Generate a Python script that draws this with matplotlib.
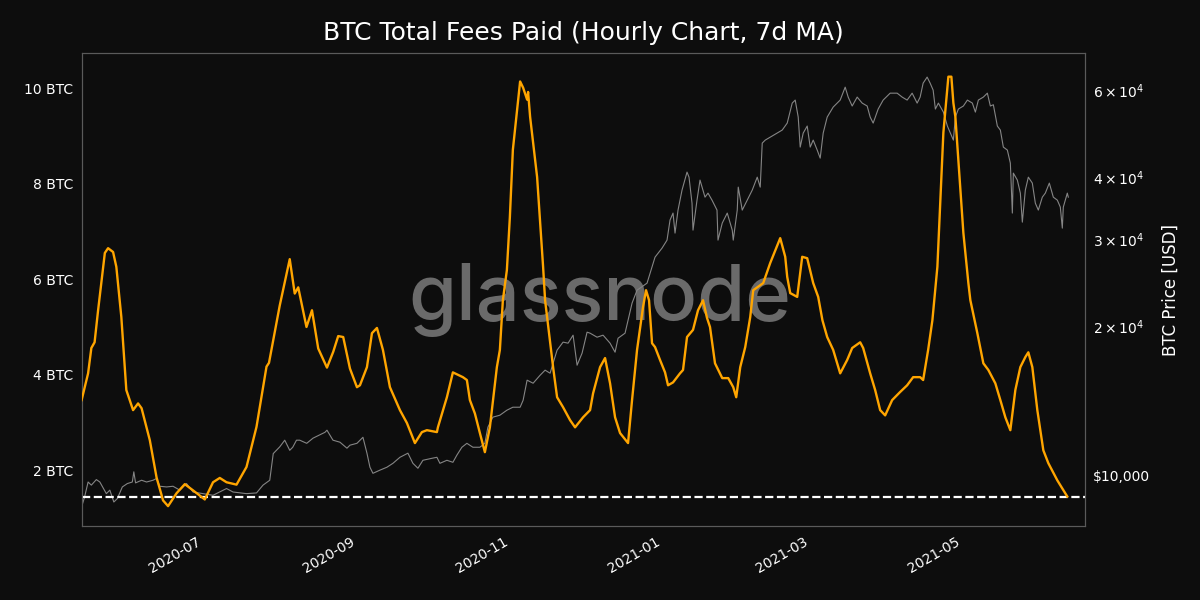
import numpy as np
import pandas as pd
import matplotlib
matplotlib.use("Agg")
import matplotlib.pyplot as plt
import matplotlib.dates as mdates
import matplotlib.ticker as mticker

# ---------------------------
# Data
# days are counted from 2020-07-01
# ---------------------------
base_date = "2020-07-01"

fee_day = [-48.5, -45.9, -44.6, -43.3, -41.9, -39.2, -37.9, -35.9, -34.6, -32.6,
           -30.6, -27.9, -25.9, -24.5, -21.2, -18.5, -15.9, -13.9, -10.5, -7.2,
           -3.9, 0.8, 4.1, 6.8, 9.5, 13.5, 17.5, 21.5, 25.5, 26.5,
           30.8, 34.8, 36.8, 38.2, 41.5, 43.7, 46.2, 49.7, 52.2, 54.2,
           56.2, 58.9, 61.7, 62.9, 65.7, 67.7, 69.7, 72.1, 74.9, 78.9,
           81.7, 84.9, 87.7, 89.7, 93.7, 94.1, 97.7, 100.1, 104.1, 105.7,
           106.9, 108.9, 110.9, 112.9, 114.9, 117.7, 118.9, 120.1, 121.7, 122.9,
           124.1, 127.0, 128.2, 129.8, 130.2, 131.0, 133.8, 136.2, 137.0, 140.2,
           141.8, 144.2, 147.0, 149.0, 152.2, 155.0, 156.2, 159.0, 161.0, 163.0,
           165.0, 167.0, 170.2, 171.8, 173.8, 176.2, 177.4, 178.6, 179.8, 181.0,
           183.0, 185.0, 186.2, 188.2, 191.0, 192.2, 193.8, 196.2, 198.2, 200.2,
           201.8, 203.0, 205.0, 207.9, 210.3, 212.3, 213.5, 215.1, 217.1, 219.1,
           220.3, 224.3, 227.1, 231.1, 233.1, 233.9, 235.1, 237.9, 239.9, 241.9,
           244.3, 246.3, 248.0, 249.9, 252.3, 255.1, 257.9, 259.9, 263.1, 264.3,
           267.1, 269.1, 271.1, 273.1, 275.9, 279.1, 281.9, 284.3, 287.1, 288.3,
           290.3, 292.0, 294.0, 296.4, 298.4, 299.6, 300.4, 301.2, 302.4, 304.4,
           306.4, 307.2, 310.0, 312.4, 314.4, 317.2, 319.2, 321.2, 323.2, 325.2,
           327.2, 329.2, 330.4, 332.0, 334.0, 336.4, 338.4, 342.0, 346.0]

fee_btc = [3.47, 4.03, 4.56, 4.68, 5.35, 6.55, 6.65, 6.57, 6.26, 5.21,
           3.68, 3.26, 3.40, 3.30, 2.63, 1.85, 1.37, 1.25, 1.52, 1.71,
           1.58, 1.39, 1.75, 1.84, 1.75, 1.70, 2.07, 2.91, 4.17, 4.25,
           5.45, 6.42, 5.70, 5.83, 5.00, 5.35, 4.55, 4.15, 4.48, 4.81,
           4.79, 4.13, 3.74, 3.78, 4.16, 4.87, 4.98, 4.52, 3.74, 3.26,
           2.99, 2.57, 2.80, 2.84, 2.80, 2.90, 3.53, 4.05, 3.95, 3.89,
           3.47, 3.19, 2.78, 2.38, 2.90, 4.16, 4.52, 5.56, 6.19, 7.30,
           8.71, 10.14, 10.01, 9.76, 9.92, 9.40, 8.14, 6.26, 5.56, 4.16,
           3.53, 3.32, 3.05, 2.90, 3.11, 3.26, 3.61, 4.16, 4.35, 3.82,
           3.11, 2.78, 2.57, 3.47, 4.52, 5.42, 5.77, 5.56, 4.66, 4.58,
           4.31, 4.05, 3.78, 3.84, 4.03, 4.10, 4.79, 4.94, 5.35, 5.56,
           5.19, 5.00, 4.24, 3.93, 3.93, 3.74, 3.53, 4.16, 4.58, 5.21,
           5.77, 5.92, 6.34, 6.86, 6.47, 6.05, 5.71, 5.63, 6.47, 6.44,
           5.92, 5.63, 5.14, 4.79, 4.52, 4.03, 4.31, 4.56, 4.68, 4.56,
           4.03, 3.68, 3.26, 3.15, 3.47, 3.64, 3.78, 3.95, 3.95, 3.89,
           4.52, 5.14, 6.26, 9.07, 10.24, 10.24, 9.69, 9.40, 8.50, 6.97,
           5.92, 5.56, 4.87, 4.24, 4.10, 3.82, 3.47, 3.11, 2.84, 3.68,
           4.16, 4.37, 4.47, 4.16, 3.26, 2.42, 2.15, 1.79, 1.45]

price_day = [-48.5, -47.3, -45.9, -44.6, -42.6, -41.2, -38.6, -37.2, -35.6, -34.2,
             -32.2, -30.2, -28.2, -27.6, -26.9, -24.5, -22.5, -19.9, -18.5, -17.2,
             -14.5, -11.9, -9.2, -6.5, -3.9, 0.1, 4.1, 9.5, 12.1, 17.5,
             21.5, 24.1, 26.8, 28.2, 30.8, 32.8, 34.8, 36.0, 37.5, 38.8,
             41.6, 44.1, 48.9, 49.7, 52.1, 54.9, 57.7, 58.9, 61.7, 64.1,
             65.7, 66.9, 68.1, 70.9, 73.7, 76.1, 78.9, 82.1, 84.1, 86.1,
             88.1, 91.7, 93.7, 94.9, 97.7, 100.1, 101.7, 103.7, 105.7, 108.1,
             110.9, 112.9, 114.1, 116.1, 118.9, 121.7, 124.1, 127.0, 128.2, 129.8,
             132.2, 135.0, 137.0, 139.0, 140.2, 141.8, 144.2, 146.2, 148.2, 149.8,
             151.8, 153.8, 155.0, 157.8, 160.2, 163.0, 165.0, 166.2, 169.0, 170.2,
             171.8, 173.8, 177.8, 179.8, 181.0, 183.8, 185.8, 187.0, 188.2, 189.0,
             190.2, 191.8, 193.8, 194.6, 195.8, 196.2, 197.8, 199.0, 201.0, 202.2,
             203.8, 205.8, 206.2, 207.9, 209.9, 211.9, 212.3, 213.9, 214.3, 215.9,
             217.9, 219.9, 221.9, 223.1, 223.9, 225.1, 227.1, 229.9, 231.9, 233.9,
             235.9, 237.1, 238.3, 239.1, 240.3, 241.9, 243.1, 244.3, 245.9, 247.1,
             248.3, 249.9, 252.3, 255.1, 257.1, 258.3, 259.9, 261.9, 263.9, 265.9,
             267.1, 268.3, 270.3, 272.3, 275.1, 277.9, 279.9, 281.9, 283.9, 285.9,
             287.1, 288.3, 289.9, 291.1, 292.3, 293.2, 294.4, 296.4, 298.0, 299.2,
             300.4, 301.2, 302.4, 304.4, 306.0, 308.0, 309.2, 310.4, 312.4, 314.0,
             315.2, 316.4, 318.0, 319.2, 320.4, 322.0, 323.2, 324.0, 324.4, 326.0,
             327.2, 328.0, 329.2, 330.4, 332.0, 333.2, 334.4, 336.0, 337.2, 338.8,
             340.4, 342.0, 343.2, 344.0, 344.4, 346.0, 346.4]

price_usd = [8630, 9040, 9690, 9550, 9800, 9690, 9180, 9330, 8830, 8970,
             9470, 9620, 9690, 10160, 9650, 9770, 9690, 9770, 9850, 9500,
             9470, 9500, 9330, 9620, 9250, 9180, 9110, 9400, 9250, 9180,
             9210, 9550, 9770, 11060, 11410, 11770, 11230, 11390, 11770, 11770,
             11600, 11880, 12210, 12330, 11770, 11660, 11340, 11500, 11600, 11930,
             11080, 10380, 10090, 10240, 10380, 10570, 10870, 11080, 10570, 10330,
             10720, 10820, 10870, 10570, 10720, 10620, 10980, 11390, 11600, 11390,
             11390, 11600, 12500, 13100, 13220, 13530, 13720, 13720, 14170, 15560,
             15340, 15920, 16300, 16070, 16840, 17890, 18570, 18480, 19180, 16680,
             17640, 19450, 19360, 19000, 19180, 18480, 17720, 18910, 19360, 20570,
             22260, 23640, 24430, 26320, 27570, 28750, 29840, 32760, 33840, 30830,
             34310, 37650, 40940, 39990, 35440, 31260, 35940, 39450, 36440, 37130,
             35940, 34310, 29840, 32300, 33840, 31260, 29840, 34310, 38180, 34310,
             35940, 37650, 39990, 38180, 46850, 47510, 48170, 49090, 49780, 51420,
             56430, 57230, 52880, 45990, 49090, 50720, 45990, 47510, 45360, 43690,
             49090, 52880, 55400, 57230, 60770, 58030, 55670, 58030, 56430, 55670,
             52880, 51420, 54890, 57230, 59100, 59100, 58030, 57230, 59100, 56430,
             58030, 61920, 63680, 61920, 59950, 54890, 56430, 54120, 50720, 49090,
             47510, 52880, 54890, 55670, 57230, 56430, 54120, 57230, 58030, 59100,
             55670, 56000, 50720, 49780, 45990, 45360, 42690, 33840, 40750, 39450,
             37130, 32440, 37650, 39990, 38900, 35440, 34310, 36440, 37130, 38900,
             36440, 35940, 34790, 31550, 34790, 37130, 36440]

bg = "#0d0d0d"

fee_dates = pd.Timestamp(base_date) + pd.to_timedelta(fee_day, unit="D")
price_dates = pd.Timestamp(base_date) + pd.to_timedelta(price_day, unit="D")

# ---------------------------
# Plot
# ---------------------------
fig = plt.figure(figsize=(12, 6), dpi=100, facecolor=bg)
ax = fig.add_axes([0.068, 0.123, 0.836, 0.789])
ax2 = ax.twinx()

# fees on top of price
ax.set_zorder(ax2.get_zorder() + 1)
ax.patch.set_visible(False)
ax2.set_facecolor(bg)

ax2.plot(price_dates, price_usd, color="#858585", lw=0.8, zorder=2)
ax2.set_yscale("log")
ax2.set_ylim(7890, 71300)

ax.plot(fee_dates, fee_btc, color="#ffa500", lw=1.7, zorder=3)
ax.axhline(fee_btc[-1], color="white", lw=1.6, ls="--", zorder=2)
ax.set_ylim(0.83, 10.74)
ax.set_xlim(fee_dates[0], pd.Timestamp("2021-06-19"))

# watermark
ax2.text(0.5, 0.5, "glassnode", transform=fig.transFigure, ha="center", va="center",
         fontsize=56, family="Inter", fontweight="medium", color="#6a6a6a", zorder=1)

# axes styling
ax.yaxis.set_major_locator(mticker.MultipleLocator(2))
ax.yaxis.set_major_formatter(mticker.FuncFormatter(lambda v, p: f"{v:.0f} BTC"))
ax2.yaxis.set_major_formatter(mticker.StrMethodFormatter("${x:,.0f}"))

ax.xaxis.set_major_locator(mdates.MonthLocator(bymonth=[1, 3, 5, 7, 9, 11]))
ax.xaxis.set_major_formatter(mdates.DateFormatter("%Y-%m"))
for lbl in ax.get_xticklabels():
    lbl.set_rotation(30)
    lbl.set_ha("right")

for a in (ax, ax2):
    a.tick_params(axis="both", which="both", length=0, pad=6, colors="white", labelsize=10)
    for s in a.spines.values():
        s.set_color("#5a5a5a")

ax.set_title("BTC Total Fees Paid (Hourly Chart, 7d MA)", color="white", fontsize=18, pad=9)
ax2.set_ylabel("BTC Price [USD]", color="white", fontsize=12, labelpad=8)

fig.savefig("out.png", dpi=100, facecolor=bg)
